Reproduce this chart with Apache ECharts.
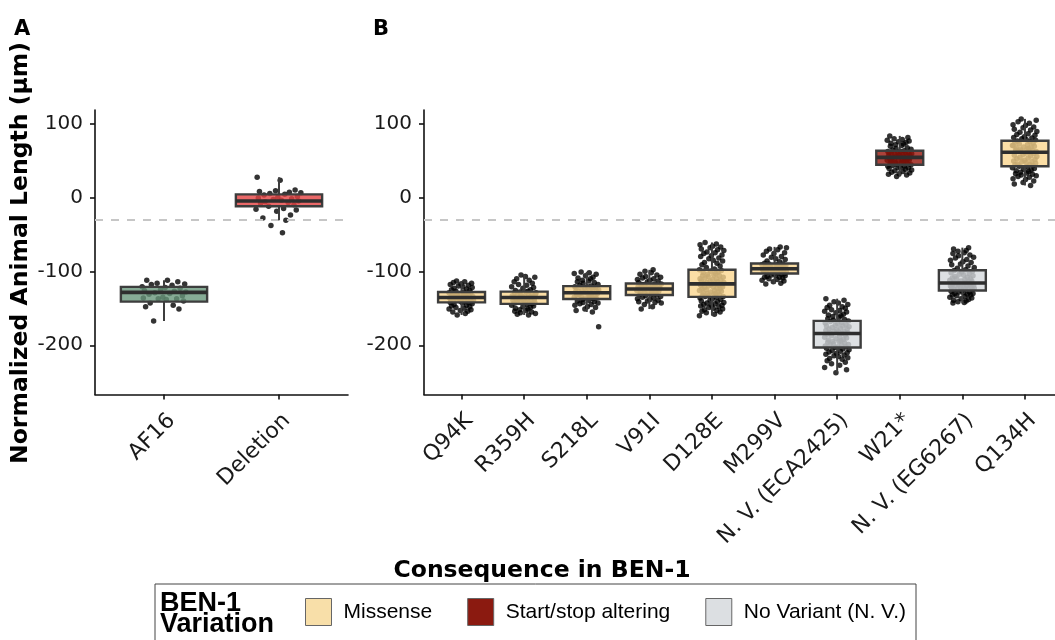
<!DOCTYPE html>
<html>
<head>
<meta charset="utf-8">
<script src="https://cdn.jsdelivr.net/npm/echarts@6/dist/echarts.min.js"></script>
<style>
  html, body { margin: 0; padding: 0; background: #fff; }
  #chart { width: 1055px; height: 640px; }
</style>
</head>
<body>
<div id="chart"></div>
<script>
// ---- Data -------------------------------------------------------------
const STRAINS_A = ['AF16', 'Deletion'];
const STRAINS_B = ['Q94K', 'R359H', 'S218L', 'V91I', 'D128E', 'M299V',
  'N. V. (ECA2425)', 'W21*', 'N. V. (EG6267)', 'Q134H'];
const VARIATION_B = ['Missense', 'Missense', 'Missense', 'Missense', 'Missense',
  'Missense', 'No Variant (N. V.)', 'Start/stop altering', 'No Variant (N. V.)', 'Missense'];
const VARIATION_TYPES = ['Missense', 'Start/stop altering', 'No Variant (N. V.)'];

// box summaries: [lower whisker, Q1, median, Q3, upper whisker]
const BOX_A = [
  [-167, -141, -128.5, -121, -112],
  [-31, -12, -5, 4, 27]
];
const BOX_B = [
  [-159, -142, -135.5, -128, -113],
  [-159, -144, -135.5, -127.5, -105],
  [-155, -137.5, -129, -120, -101],
  [-151, -132, -124, -116.5, -98],
  [-160, -134.5, -117, -98, -61],
  [-117, -103, -96.5, -89.5, -67],
  [-237, -203, -184, -167, -137],
  [28, 44, 54, 63, 83],
  [-143, -126, -115.8, -98.6, -68],
  [16, 42, 61, 76.5, 106]
];

// individual animal measurements per strain
const AF16 = [-112, -112, -114, -116, -117, -118, -119, -121, -122, -123, -125, -126, -127,
  -128, -129, -130, -131, -133, -135, -136, -137, -137, -138, -140, -143, -146, -148, -151, -167];
const DELETION = [27, 23, 10, 9, 8, 7, 6, 5, 4, 3, 1, 0, -1, -2, -3, -4, -5, -6, -7, -8,
  -10, -12, -15, -16, -17, -19, -24, -28, -31, -38, -48];
const Q94K = [-113, -114, -115, -116, -117, -118, -119, -120, -121, -122, -123, -124, -125, -126, -127,
  -128, -129, -129, -130, -130, -131, -131, -132, -132, -133, -133, -134, -134, -135, -135,
  -136, -136, -137, -137, -138, -138, -139, -139, -140, -140, -141, -141, -142, -142, -136,
  -143, -144, -145, -146, -147, -148, -149, -150, -151, -152, -153, -154, -155, -157, -159];
const R359H = [-105, -107, -108, -110, -112, -114, -116, -118, -119, -121, -122, -123, -125, -126, -127,
  -128, -128, -129, -130, -130, -131, -132, -132, -133, -133, -134, -134, -135, -135, -129,
  -136, -137, -137, -138, -139, -139, -140, -140, -141, -142, -142, -143, -143, -144, -138,
  -145, -146, -147, -148, -149, -150, -151, -152, -153, -154, -155, -156, -157, -158, -159];
const S218L = [-101, -102, -103, -104, -106, -108, -109, -110, -112, -113, -114, -115, -116, -118, -119,
  -120, -121, -121, -122, -123, -123, -124, -125, -125, -126, -127, -127, -128, -128, -122,
  -129, -130, -130, -131, -132, -132, -133, -134, -134, -135, -136, -136, -137, -131, -133,
  -138, -139, -140, -141, -142, -143, -144, -145, -146, -148, -149, -151, -153, -155, -175];
const V91I = [-98, -100, -102, -104, -105, -107, -108, -109, -110, -111, -112, -113, -114, -115,
  -117, -117, -118, -119, -119, -120, -121, -121, -122, -122, -123, -123, -118, -120,
  -124, -125, -125, -126, -126, -127, -128, -128, -129, -129, -130, -131, -131, -132,
  -133, -134, -135, -136, -137, -138, -139, -140, -141, -142, -143, -145, -148, -151];
const D128E = [-61, -63, -64, -66, -67, -68, -70, -71, -72, -74, -75, -76, -78, -79, -80, -82, -83,
  -85, -86, -88, -89, -91, -93, -95, -97,
  -98, -99, -100, -101, -102, -103, -104, -105, -106, -106, -107, -108, -109, -110, -110, -111,
  -112, -113, -113, -114, -115, -115, -116, -116, -117,
  -118, -119, -119, -120, -121, -121, -122, -123, -124, -124, -125, -126, -126, -127, -128, -128,
  -129, -130, -130, -131, -132, -132, -133, -134, -134,
  -135, -136, -137, -138, -139, -140, -141, -142, -143, -144, -145, -146, -146, -147, -148, -149,
  -150, -151, -152, -153, -154, -155, -156, -158, -160];
const M299V = [-67, -68, -70, -71, -73, -75, -76, -78, -80, -81, -83, -84, -86, -87, -89,
  -90, -90, -91, -91, -92, -92, -93, -93, -94, -94, -95, -95, -96, -96, -92,
  -97, -97, -98, -98, -99, -99, -100, -100, -101, -101, -102, -102, -103, -103, -99,
  -104, -105, -105, -106, -107, -108, -108, -109, -110, -111, -112, -113, -114, -116, -117];
const ECA2425 = [-137, -139, -141, -143, -145, -146, -148, -149, -150, -152, -153, -154, -155, -156,
  -158, -159, -160, -161, -162, -164, -165, -166,
  -167, -168, -169, -170, -171, -172, -173, -174, -174, -175, -176, -177, -178, -178, -179, -180,
  -181, -181, -182, -183, -183, -184,
  -185, -186, -187, -188, -189, -190, -191, -192, -193, -194, -195, -195, -196, -197, -198, -199,
  -199, -200, -201, -202, -202, -203,
  -204, -205, -206, -207, -208, -209, -210, -211, -212, -213, -214, -215, -217, -218, -219, -221,
  -223, -225, -227, -230, -233, -237];
const W21 = [83, 81, 79, 78, 77, 76, 75, 74, 73, 72, 71, 70, 69, 67, 66, 65, 64,
  63, 62, 62, 61, 61, 60, 60, 59, 59, 58, 58, 57, 57, 56, 56, 55, 55, 54,
  53, 53, 52, 52, 51, 51, 50, 50, 49, 49, 48, 48, 47, 47, 46, 46, 45, 44,
  43, 42, 42, 41, 40, 40, 39, 38, 37, 36, 35, 34, 33, 32, 31, 30, 28];
const EG6267 = [-68, -70, -72, -73, -75, -76, -78, -79, -81, -82, -84, -85, -87, -88, -90, -91, -93,
  -95, -96, -98,
  -99, -100, -101, -102, -103, -104, -105, -106, -107, -108, -109, -110, -110, -111, -112, -113,
  -113, -114, -115, -115,
  -116, -117, -117, -118, -118, -119, -119, -120, -120, -121, -121, -122, -122, -123, -123, -124,
  -124, -125, -125, -126,
  -127, -128, -128, -129, -130, -130, -131, -132, -132, -133, -134, -135, -136, -137, -138, -139,
  -140, -141, -142, -143];
const Q134H = [106, 104, 102, 100, 98, 97, 95, 94, 92, 91, 89, 88, 86, 85, 84, 82, 81, 80, 79, 78, 77,
  76, 75, 74, 73, 72, 71, 70, 69, 68, 68, 67, 66, 65, 65, 64, 63, 63, 62, 62, 61, 70,
  60, 59, 58, 57, 56, 55, 54, 53, 52, 51, 50, 49, 48, 48, 47, 46, 45, 44, 44, 43, 42,
  41, 40, 39, 38, 37, 36, 35, 34, 33, 32, 31, 30, 29, 28, 27, 25, 24, 22, 20, 18, 16];

const POINTS_A = [AF16, DELETION];
const POINTS_B = [Q94K, R359H, S218L, V91I, D128E, M299V, ECA2425, W21, EG6267, Q134H];

// reference level (dashed line)
const REF_LEVEL = -31;
const Y_TICKS = [-200, -100, 0, 100];

// ---- Layout / style ---------------------------------------------------
// horizontal spread of the points around each strain, in category units
const JITTER = [0.03, -0.15, 0.12, -0.06, 0.18, -0.11, 0.07, -0.19, 0.01, 0.14, -0.03, -0.17,
  0.09, 0.19, -0.08, 0.05, -0.13, 0.16, -0.01, -0.18, 0.11, -0.05, 0.02, 0.17, -0.12, 0.08,
  -0.16, 0.13, -0.09, 0.04, -0.2, 0.15, -0.02, 0.1, -0.14, 0.06, -0.07];
const BOX_HALF = 0.375;
const COLORS = {
  'AF16': 'rgba(104,150,122,0.8)',
  'Deletion': 'rgba(228,66,66,0.8)',
  'Missense': 'rgba(250,214,142,0.8)',
  'Start/stop altering': 'rgba(150,20,10,0.8)',
  'No Variant (N. V.)': 'rgba(212,216,220,0.8)'
};
const LEGEND_COLORS = {
  'Missense': '#f8dfa9',
  'Start/stop altering': '#8b1a10',
  'No Variant (N. V.)': '#dcdfe2'
};
const LINE = '#3d3d3d';
const AXIS = '#111';
const FONT = 'DejaVu Sans';

function jitterPoints(groups, groupOffset) {
  const out = [];
  groups.forEach((vals, g) => {
    vals.forEach((v, i) => {
      const j = JITTER[(i + (g + groupOffset) * 7) % JITTER.length];
      out.push([g + 1 + j, v]);
    });
  });
  return out;
}

function boxRenderer(fill) {
  return function (params, api) {
    const x = api.value(0);
    const lo = api.coord([x, api.value(1)]);
    const q1 = api.coord([x, api.value(2)]);
    const md = api.coord([x, api.value(3)]);
    const q3 = api.coord([x, api.value(4)]);
    const hi = api.coord([x, api.value(5)]);
    const half = api.size([BOX_HALF, 0])[0];
    const cx = md[0];
    return {
      type: 'group',
      children: [
        { type: 'line', shape: { x1: cx, y1: q3[1], x2: cx, y2: hi[1] },
          style: { stroke: LINE, lineWidth: 2 } },
        { type: 'line', shape: { x1: cx, y1: q1[1], x2: cx, y2: lo[1] },
          style: { stroke: LINE, lineWidth: 2 } },
        { type: 'rect', shape: { x: cx - half, y: q3[1], width: 2 * half, height: q1[1] - q3[1] },
          style: { fill: fill, stroke: LINE, lineWidth: 2.4 } },
        { type: 'line', shape: { x1: cx - half, y1: md[1], x2: cx + half, y2: md[1] },
          style: { stroke: '#2e2e2e', lineWidth: 3.6 } }
      ]
    };
  };
}

function boxSeries(name, axisIndex, rows, fill) {
  return {
    name: name,
    type: 'custom',
    xAxisIndex: axisIndex,
    yAxisIndex: axisIndex,
    renderItem: boxRenderer(fill),
    itemStyle: { color: fill },
    encode: { x: 0, y: [1, 2, 3, 4, 5] },
    data: rows,
    z: 5,
    silent: true
  };
}

const rowsA = BOX_A.map((b, i) => [i + 1].concat(b));
const rowsB = BOX_B.map((b, i) => [i + 1].concat(b));

function yAxisFor(gridIndex) {
  return {
    type: 'value',
    gridIndex: gridIndex,
    min: -266.5,
    max: 118,
    splitLine: { show: false },
    axisLine: { show: true, lineStyle: { color: AXIS, width: 1.6 } },
    axisTick: { show: true, length: 5, customValues: Y_TICKS, lineStyle: { color: AXIS, width: 1.6 } },
    axisLabel: { customValues: Y_TICKS, fontFamily: FONT, fontSize: 20, color: '#1a1a1a', margin: 12 }
  };
}

function xAxisFor(gridIndex, names, max) {
  const ticks = names.map((n, i) => i + 1);
  return {
    type: 'value',
    gridIndex: gridIndex,
    min: 0.4,
    max: max,
    splitLine: { show: false },
    axisLine: { show: true, onZero: false, lineStyle: { color: AXIS, width: 1.6 } },
    axisTick: { show: true, length: 5, customValues: ticks, lineStyle: { color: AXIS, width: 1.6 } },
    axisLabel: {
      customValues: ticks,
      rotate: 45,
      align: 'right',
      verticalAlign: 'top',
      fontFamily: FONT,
      fontSize: 22,
      color: '#1a1a1a',
      margin: 15,
      formatter: v => names[Math.round(v) - 1] || ''
    }
  };
}

const refLine = {
  silent: true,
  symbol: 'none',
  label: { show: false },
  lineStyle: { type: [8, 8], color: '#c6c6c6', width: 2 },
  data: [{ yAxis: REF_LEVEL }]
};

const seriesB = VARIATION_TYPES.map(t => boxSeries(
  t, 1,
  rowsB.filter((r, i) => VARIATION_B[i] === t),
  COLORS[t]
));

const option = {
  animation: false,
  backgroundColor: '#fff',
  title: [
    { text: 'A', left: 9, top: 14, textStyle: { fontFamily: FONT, fontWeight: 'bold', fontSize: 21, color: '#000' } },
    { text: 'B', left: 368, top: 14, textStyle: { fontFamily: FONT, fontWeight: 'bold', fontSize: 21, color: '#000' } },
    { text: 'Consequence in BEN-1', left: 537, top: 554, textAlign: 'center',
      textStyle: { fontFamily: FONT, fontWeight: 'bold', fontSize: 23.5, color: '#000' } },
    { text: 'BEN-1\nVariation', left: 155, top: 588,
      textStyle: { fontFamily: 'Liberation Sans', fontWeight: 'bold', fontSize: 27, lineHeight: 21, color: '#000' } }
  ],
  graphic: [{
    type: 'text',
    x: 21, y: 253,
    rotation: Math.PI / 2,
    style: {
      text: 'Normalized Animal Length (µm)',
      fontFamily: FONT, fontWeight: 'bold', fontSize: 23.5, fill: '#000',
      textAlign: 'center', textVerticalAlign: 'middle'
    }
  }],
  legend: {
    data: VARIATION_TYPES.map(n => ({ name: n, itemStyle: { color: LEGEND_COLORS[n] } })),
    left: 155,
    top: 584,
    orient: 'horizontal',
    icon: 'rect',
    itemWidth: 26,
    itemHeight: 27,
    itemGap: 35,
    padding: [14, 10, 20, 150],
    borderColor: '#444',
    borderWidth: 1,
    itemStyle: { borderColor: '#666', borderWidth: 1 },
    textStyle: { fontFamily: 'Liberation Sans', fontSize: 21, color: '#000', padding: [0, 0, 0, 7] },
    selectedMode: false
  },
  grid: [
    { left: 95, top: 110, width: 253, height: 284.5 },
    { left: 424, top: 110, right: 0, height: 284.5 }
  ],
  xAxis: [xAxisFor(0, STRAINS_A, 2.6), xAxisFor(1, STRAINS_B, 10.48)],
  yAxis: [yAxisFor(0), yAxisFor(1)],
  series: [
    {
      name: 'pointsA', type: 'scatter', xAxisIndex: 0, yAxisIndex: 0,
      data: jitterPoints(POINTS_A, 0), symbolSize: 5.5,
      itemStyle: { color: '#000' }, z: 2, silent: true, markLine: refLine
    },
    {
      name: 'pointsB', type: 'scatter', xAxisIndex: 1, yAxisIndex: 1,
      data: jitterPoints(POINTS_B, 2), symbolSize: 5.5,
      itemStyle: { color: '#000' }, z: 2, silent: true, markLine: refLine
    },
    boxSeries('AF16', 0, [rowsA[0]], COLORS['AF16']),
    boxSeries('Deletion', 0, [rowsA[1]], COLORS['Deletion'])
  ].concat(seriesB)
};

const chart = echarts.init(document.getElementById('chart'), null, { renderer: 'canvas' });
chart.setOption(option);
</script>
</body>
</html>
